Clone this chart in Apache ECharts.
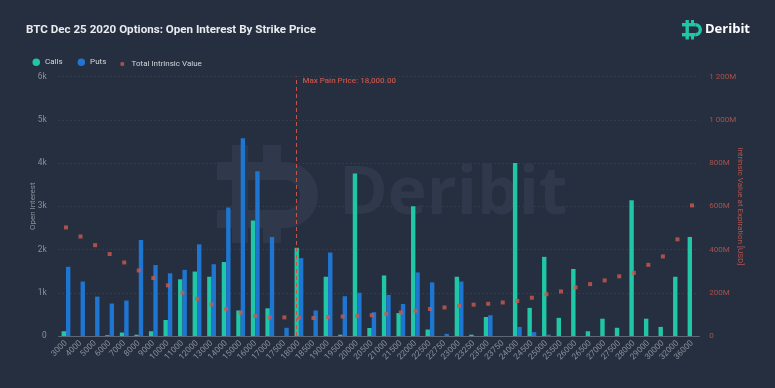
<!DOCTYPE html>
<html>
<head>
<meta charset="utf-8">
<script src="https://cdn.jsdelivr.net/npm/echarts@6/dist/echarts.min.js"></script>
<style>
html,body{margin:0;padding:0;background:#262f3f;}
#c{width:775px;height:388px;}
</style>
</head>
<body>
<div id="c"></div>
<script>
var strikes = ['3000','4000','5000','6000','7000','8000','9000','10000','11000','12000','13000','14000','15000','16000','17000','17500','18000','18500','19000','19500','20000','20500','21000','21500','22000','22500','22750','23000','23250','23500','23750','24000','24500','25000','25500','26000','26500','27000','27500','28000','29000','30000','32000','36000'];
var calls = [110,0,0,20,80,30,110,370,1310,1490,1370,1710,590,2670,640,0,2040,0,1370,30,3760,185,1400,530,3000,150,0,1370,30,440,0,4000,650,1830,420,1550,110,400,190,3140,400,210,1370,2290];
var puts = [1600,1260,910,750,820,2220,1640,1450,1530,2120,1660,2970,4570,3810,2290,190,1800,590,1930,920,1000,550,950,740,1470,1240,50,1260,0,480,0,210,90,30,0,0,0,0,0,0,0,0,0,0];
var intrinsicM = [502,460,420,379,340,303,268,234,200,172,146,125,108,92,86,86,83,83,88,90,92,96,102,109,117,125,132,139,145,149,155,162,177,193,206,225,240,257,276,292,329,368,447,604];
var leftTicks = ['0','1k','2k','3k','4k','5k','6k'];
var maxPain = '18000';
var maxPainLabel = 'Max Pain Price: 18,000.00';

var chart = echarts.init(document.getElementById('c'), null, {renderer:'canvas'});
var FONT = 'Roboto, "Noto Sans", sans-serif';
function fmtM(v){
  if (v === 0) return '0';
  var s = String(Math.round(v));
  s = s.replace(/\B(?=(\d{3})+(?!\d))/g, ' ');
  return s + 'M';
}
var option = {
  backgroundColor: '#262f3f',
  animation: false,
  textStyle: {fontFamily: FONT},
  title: {
    text: 'BTC Dec 25 2020 Options: Open Interest By Strike Price',
    left: 21, top: 19,
    textStyle: {color: '#e9ebef', fontSize: 11.6, fontWeight: 'bold', fontFamily: FONT}
  },
  legend: [{
    data: ['Calls','Puts'],
    left: 32.5, top: 58.3, padding: 0,
    icon: 'circle', itemWidth: 7.5, itemHeight: 7.5, itemGap: 15,
    textStyle: {color: '#d2d6dc', fontSize: 8, fontFamily: FONT}
  },{
    data: ['Total Intrinsic Value'],
    left: 120.5, top: 60, padding: 0,
    icon: 'rect', itemWidth: 3.6, itemHeight: 3.6,
    textStyle: {color: '#d2d6dc', fontSize: 8, fontFamily: FONT, padding: [0,0,0,2.5]}
  }],
  grid: {left: 58.7, right: 75.7, top: 76.5, bottom: 52, containLabel: false},
  xAxis: {
    type: 'category',
    data: strikes,
    axisLine: {lineStyle: {color: '#5f6775', width: 1}},
    axisTick: {show: false},
    axisLabel: {interval: 0, rotate: 45, color: '#8a919c', fontSize: 8.3, margin: 6, fontFamily: FONT},
    splitLine: {show: false}
  },
  yAxis: [{
    type: 'value', min: 0, max: 6000, interval: 1000,
    name: 'Open Interest', nameLocation: 'middle', nameGap: 22, nameRotate: 90, nameMoveOverlap: false,
    nameTextStyle: {color: '#8a919c', fontSize: 8, fontFamily: FONT},
    axisLine: {show: false}, axisTick: {show: false},
    axisLabel: {color: '#8a919c', fontSize: 8.3, margin: 12, formatter: function(v){ return leftTicks[Math.round(v/1000)]; }},
    splitLine: {lineStyle: {color: 'rgba(255,255,255,0.12)', type: [1,3], width: 1}}
  },{
    type: 'value', min: 0, max: 1200, interval: 200,
    name: 'Intrinsic Value at Expiration [USD]', nameLocation: 'middle', nameGap: 37, nameRotate: -90, nameMoveOverlap: false,
    nameTextStyle: {color: '#b4554e', fontSize: 8, fontFamily: FONT},
    axisLine: {show: false}, axisTick: {show: false},
    axisLabel: {color: '#a8524c', fontSize: 8, margin: 10, formatter: fmtM},
    splitLine: {show: false}
  }],
  series: [{
    name: 'Calls', type: 'bar', data: calls, barWidth: 4.4, barGap: '0%',
    itemStyle: {color: '#1fc7a6'}, z: 3,
    markLine: {
      silent: true, symbol: ['none','none'],
      lineStyle: {color: '#c5544b', type: [4,3], width: 1},
      label: {show: false},
      data: [{xAxis: maxPain}]
    }
  },{
    name: 'Puts', type: 'bar', data: puts, barWidth: 4.4,
    itemStyle: {color: '#1e75d2'}, z: 3
  },{
    name: 'Total Intrinsic Value', type: 'scatter', yAxisIndex: 1, data: intrinsicM,
    symbol: 'rect', symbolSize: 4, itemStyle: {color: '#d0574d'}, z: 4
  }]
};
chart.setOption(option);

var mx = chart.convertToPixel({xAxisIndex: 0}, maxPain);
var topY = chart.convertToPixel({yAxisIndex: 0}, 6000);
var WM = '#2f394b';
var TEAL = '#1fc7a6';
chart.setOption({
  graphic: [
    // watermark
    {type: 'text', z: 0, x: 339, y: 195, silent: true,
     style: {text: 'Deribit', fill: WM, font: 'bold 66px "Open Sans", ' + FONT, verticalAlign: 'middle'}},
    {type: 'group', z: 0, silent: true, children: [
      {type: 'rect', shape: {x: 217, y: 162, width: 68, height: 18}, style: {fill: WM}},
      {type: 'rect', shape: {x: 217, y: 210, width: 68, height: 18}, style: {fill: WM}},
      {type: 'arc', shape: {cx: 285, cy: 195, r: 24, startAngle: -Math.PI/2, endAngle: Math.PI/2, clockwise: true},
       style: {stroke: WM, lineWidth: 18, fill: null}},
      {type: 'rect', shape: {x: 232, y: 145, width: 16, height: 98}, style: {fill: WM}},
      {type: 'rect', shape: {x: 263, y: 145, width: 18, height: 17}, style: {fill: WM}},
      {type: 'rect', shape: {x: 263, y: 228, width: 18, height: 15}, style: {fill: WM}}
    ]},
    // logo
    {type: 'group', silent: true, children: [
      {type: 'rect', shape: {x: 682, y: 23, width: 13.3, height: 3.4}, style: {fill: TEAL}},
      {type: 'rect', shape: {x: 682, y: 33, width: 13.3, height: 3.4}, style: {fill: TEAL}},
      {type: 'arc', shape: {cx: 695.3, cy: 29.7, r: 5, startAngle: -Math.PI/2, endAngle: Math.PI/2, clockwise: true},
       style: {stroke: TEAL, lineWidth: 3.4, fill: null}},
      {type: 'rect', shape: {x: 685.5, y: 20, width: 3.4, height: 19.5}, style: {fill: TEAL}},
      {type: 'rect', shape: {x: 691, y: 20, width: 3, height: 4}, style: {fill: TEAL}},
      {type: 'rect', shape: {x: 691, y: 35.5, width: 3, height: 4}, style: {fill: TEAL}},
      {type: 'text', x: 705, y: 29.5, style: {text: 'Deribit', fill: '#ffffff', font: 'bold 13px "Open Sans", ' + FONT, verticalAlign: 'middle'}}
    ]},
    // max pain label
    {type: 'text', x: mx + 3.5, y: topY + 4, silent: true,
     style: {text: maxPainLabel, fill: '#c5544b', font: '500 8px ' + FONT, verticalAlign: 'middle'}}
  ]
});
</script>
</body>
</html>
